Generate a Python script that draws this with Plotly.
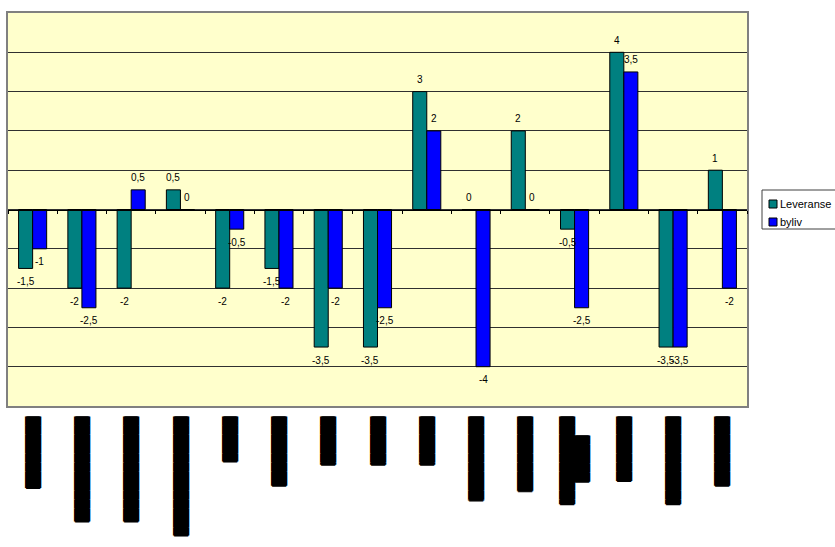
import plotly.graph_objects as go

# Category labels (redacted, drawn as solid blocks)
categories = [
    "█" * 7 + "▊",
    "█" * 11 + "▍",
    "█" * 11 + "▍",
    "█" * 12 + "▉",
    "█" * 4 + "▉",
    "█" * 7 + "▌",
    "█" * 5 + "▎",
    "█" * 5 + "▎",
    "█" * 5 + "▎",
    "█" * 9 + "▏",
    "█" * 8 + "▏",
    "\u00a0" * 5 + "█" * 5 + "<br>" + "█" * 9 + "▌",
    "█" * 7,
    "█" * 9 + "▌",
    "█" * 7 + "▌",
]

leveranse = [-1.5, -2, -2, 0.5, -2, -1.5, -3.5, -3.5, 3, 0, 2, -0.5, 4, -3.5, 1]
byliv = [-1, -2.5, 0.5, 0, -0.5, -2, -2, -2.5, 2, -4, 0, -2.5, 3.5, -3.5, -2]

series = [
    ("Leveranse", leveranse, "#008080"),
    ("byliv", byliv, "#0000FF"),
]

W, H = 835, 547
ML, MR, MT, MB = 8, 88, 13, 141
BARGAP = 0.43

idx = list(range(len(categories)))
fig = go.Figure()

for name, vals, color in series:
    fig.add_trace(go.Bar(
        x=idx, y=vals, name=name,
        marker=dict(color=color, line=dict(color="black", width=1)),
        showlegend=False, hoverinfo="x+y",
    ))

# zero-line axis carrying the category boundary ticks
fig.add_trace(go.Scatter(x=idx, y=leveranse, mode="none", xaxis="x2",
                         showlegend=False, hoverinfo="skip"))

# value labels just outside each bar end
bar_w = (1 - BARGAP) / len(series)
annotations = []
for k, (name, vals, color) in enumerate(series):
    off = (k - (len(series) - 1) / 2) * bar_w
    for i, v in enumerate(vals):
        up = v >= 0
        annotations.append(dict(
            x=i + off, y=v, xref="x", yref="y",
            text=f"{v:g}".replace(".", ","),
            showarrow=False, yanchor="middle",
            yshift=12 if up else -13,
            font=dict(family="Liberation Sans, Arial", size=10, color="black"),
        ))

# legend box
pw, ph = W - ML - MR, H - MT - MB
def px(x):
    return (x - ML) / pw
def py(y):
    return (H - MB - y) / ph

shapes = [dict(type="rect", xref="paper", yref="paper",
               x0=px(762), x1=px(845), y0=py(229), y1=py(190),
               line=dict(color="#404040", width=1), fillcolor="white")]
for k, (name, vals, color) in enumerate(series):
    cy = 204 + k * 18
    shapes.append(dict(type="rect", xref="paper", yref="paper",
                       x0=px(769), x1=px(777), y0=py(cy + 4), y1=py(cy - 4),
                       line=dict(color="black", width=1), fillcolor=color))
    annotations.append(dict(
        x=px(778), y=py(cy), xref="paper", yref="paper",
        text=name, showarrow=False, xanchor="left", yanchor="middle",
        font=dict(family="Liberation Sans, Arial", size=11, color="black"),
    ))

n = len(categories)
fig.update_layout(
    width=W, height=H,
    margin=dict(l=ML, r=MR, t=MT, b=MB, autoexpand=False),
    paper_bgcolor="white", plot_bgcolor="#FFFFCC",
    barmode="group", bargap=BARGAP, bargroupgap=0,
    showlegend=False,
    xaxis=dict(
        range=[-0.5, n - 0.5], tickvals=idx, ticktext=categories,
        tickangle=90, automargin=False, ticklabelstandoff=6,
        tickfont=dict(family="DejaVu Sans", size=12, color="black",
                      shadow="1px 0px 0px #000, 0px 1px 0px #000, 0px -1px 0px #000"),
        showgrid=False, zeroline=False, ticks="",
        showline=True, mirror=True, linecolor="#808080", linewidth=2,
        fixedrange=True,
    ),
    xaxis2=dict(
        overlaying="x", matches="x", anchor="free", position=0.5,
        tickvals=[i - 0.5 for i in range(n + 1)], showticklabels=False,
        ticks="outside", ticklen=3, tickcolor="black", tickwidth=1,
        showline=True, linecolor="black", linewidth=1,
        showgrid=False, zeroline=False,
    ),
    yaxis=dict(
        range=[-5, 5], dtick=1, tick0=0, showticklabels=False, ticks="",
        showgrid=True, gridcolor="#303030", gridwidth=1, zeroline=False,
        showline=True, mirror=True, linecolor="#808080", linewidth=2,
        fixedrange=True, automargin=False,
    ),
    shapes=shapes,
    annotations=annotations,
)

fig.write_html("out.html")
